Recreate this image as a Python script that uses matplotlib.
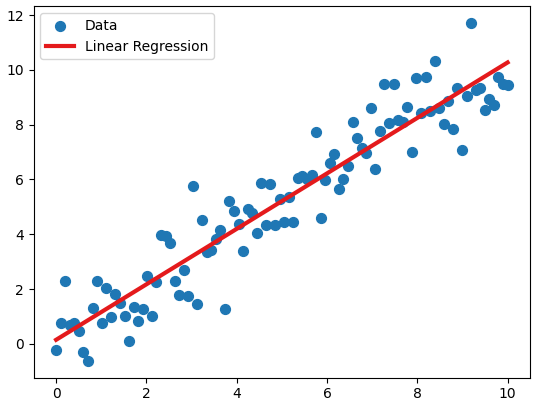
import numpy as np
import matplotlib.pyplot as plt

# data (x evenly spaced 0..10)
x = np.linspace(0, 10, 100)
y = np.array([
    -0.22, 0.77, 2.31, 0.70, 0.77, 0.48, -0.29, -0.62, 1.32, 2.31,
    0.77, 2.02, 0.99, 1.83, 1.50, 1.03, 0.11, 1.36, 0.84, 1.28,
    2.46, 1.03, 2.24, 3.96, 3.93, 3.67, 2.28, 1.80, 2.68, 1.76,
    5.76, 1.47, 4.51, 3.34, 3.41, 3.82, 4.15, 1.28, 5.21, 4.84,
    4.37, 3.38, 4.92, 4.77, 4.04, 5.87, 4.33, 5.83, 4.33, 5.28,
    4.44, 5.36, 4.44, 6.06, 6.13, 6.02, 6.17, 7.74, 4.59, 5.98,
    6.61, 6.94, 5.65, 6.02, 6.50, 8.11, 7.52, 7.16, 6.97, 8.62,
    6.39, 7.78, 9.50, 8.07, 9.50, 8.18, 8.11, 8.66, 7.01, 9.69,
    8.44, 9.72, 8.51, 10.31, 8.59, 8.04, 8.88, 7.85, 9.32, 7.08,
    9.06, 11.71, 9.25, 9.32, 8.55, 8.92, 8.70, 9.72, 9.50, 9.45,
])

slope, intercept = np.polyfit(x, y, 1)

fig = plt.figure(figsize=(5.41, 4.04), dpi=100)
ax = fig.add_axes([0.062, 0.065, 0.918, 0.92])
ax.scatter(x, y, s=50, color='#1f77b4', label='Data', zorder=2)
ax.plot(x, slope * x + intercept, color='#e41a1c', linewidth=3, label='Linear Regression', zorder=3)
ax.legend(loc='upper left')
fig.savefig('out.png')
